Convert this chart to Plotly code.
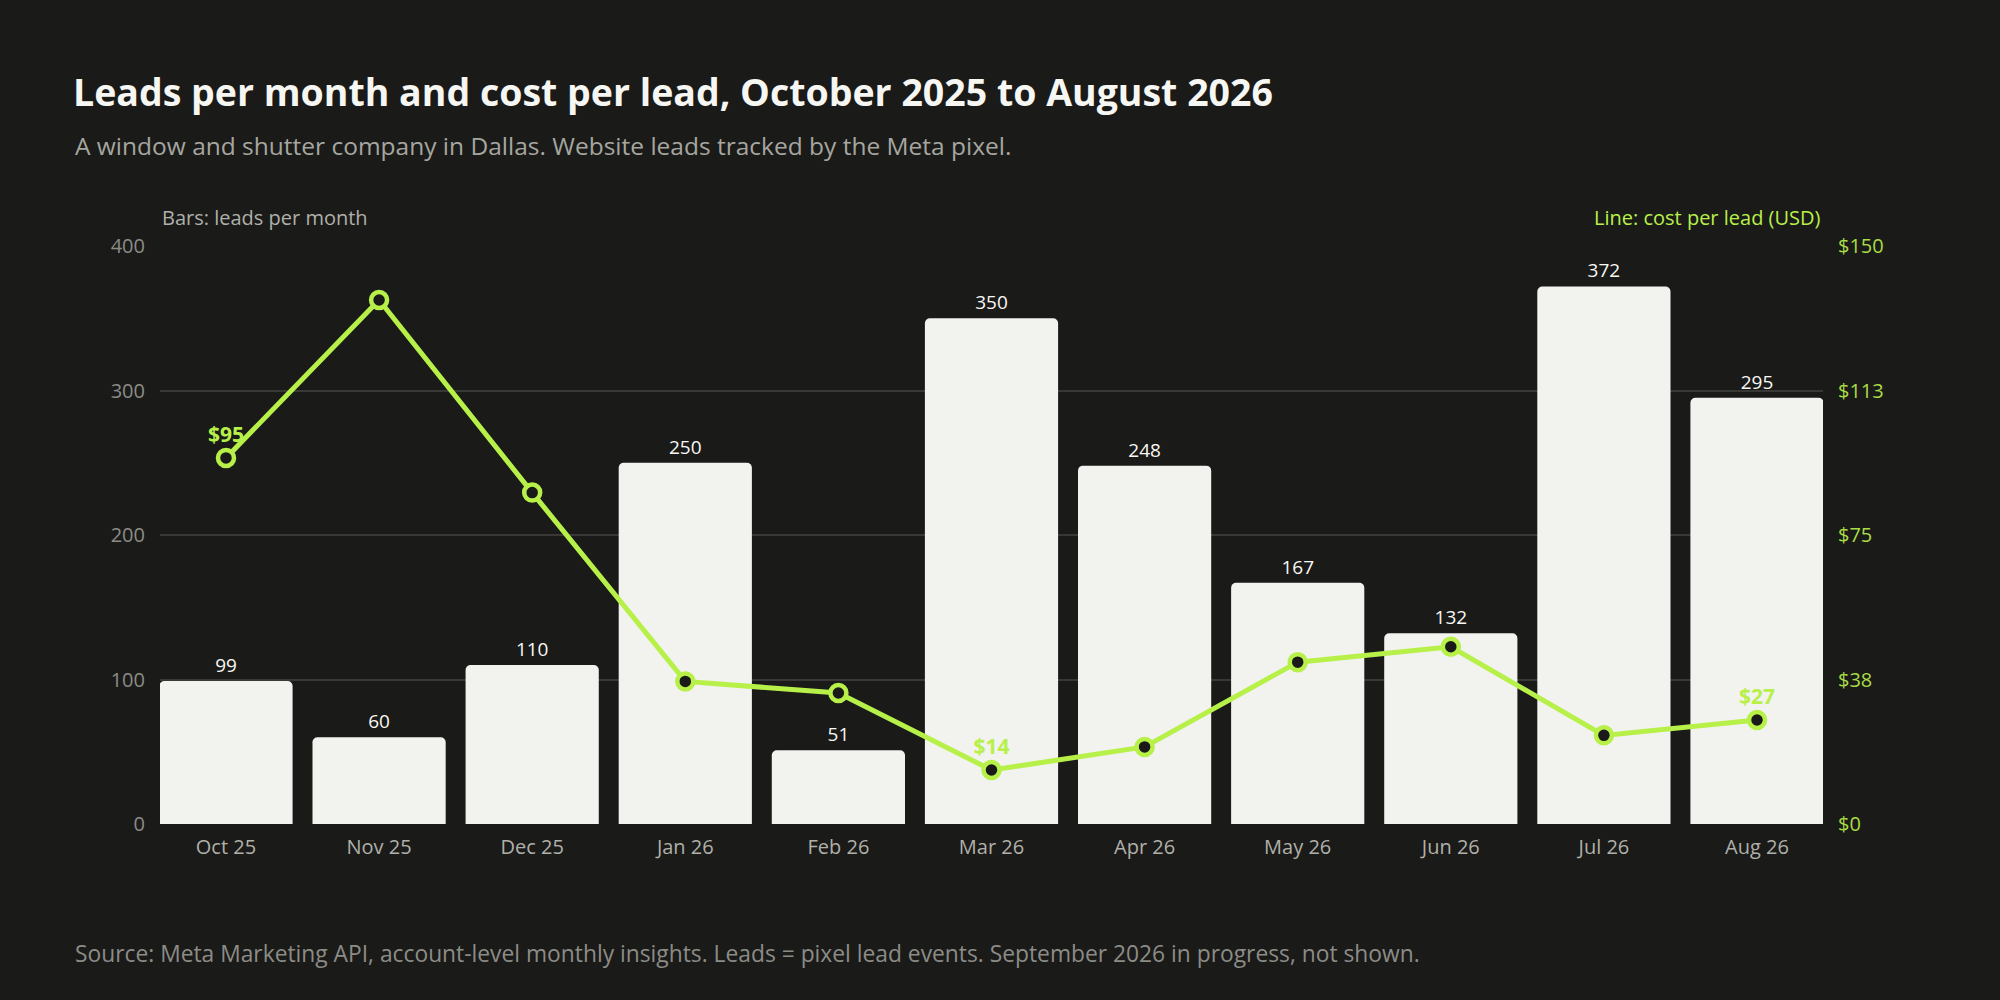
import plotly.graph_objects as go

# data
months = ["Oct 25", "Nov 25", "Dec 25", "Jan 26", "Feb 26", "Mar 26",
          "Apr 26", "May 26", "Jun 26", "Jul 26", "Aug 26"]
leads = [99, 60, 110, 250, 51, 350, 248, 167, 132, 372, 295]
cost_per_lead = [95, 136, 86, 37, 34, 14, 20, 42, 46, 23, 27]

cost_ticks = [0, 37.5, 75, 112.5, 150]
cost_tick_labels = ["$0", "$38", "$75", "$113", "$150"]

BG = "#1a1a18"
BAR = "#f2f2ee"
LIME = "#b8f04a"
GRID = "#383836"
FONT = "Open Sans, Noto Sans, sans-serif"

# label only first, lowest and last point of the line
low = cost_per_lead.index(min(cost_per_lead))
line_text = []
for i, v in enumerate(cost_per_lead):
    if i in (0, low, len(cost_per_lead) - 1):
        line_text.append(f"${v}")
    else:
        line_text.append("")

fig = go.Figure()

fig.add_trace(go.Bar(
    x=months, y=leads,
    marker=dict(color=BAR, cornerradius=5, line=dict(width=0)),
    text=leads, textposition="outside",
    textfont=dict(color="#f8f8f4", size=19, family=FONT),
    cliponaxis=False,
    name="Leads",
))

fig.add_trace(go.Scatter(
    x=months, y=cost_per_lead, yaxis="y2",
    mode="lines+markers+text",
    line=dict(color=LIME, width=5),
    marker=dict(size=16, color=BG, line=dict(color=LIME, width=4.5)),
    text=line_text, textposition="top center",
    textfont=dict(color=LIME, size=21, family=FONT, weight="bold"),
    cliponaxis=False,
    name="Cost per lead",
))

fig.update_layout(
    width=2000, height=1000,
    paper_bgcolor=BG, plot_bgcolor=BG,
    margin=dict(l=160, r=177, t=246, b=176),
    showlegend=False,
    bargap=0.13,
    font=dict(family=FONT, color="#a8a8a2"),
    title=dict(
        text="<b>Leads per month and cost per lead, October 2025 to August 2026</b>",
        x=73 / 2000, xanchor="left", xref="container",
        y=0.907, yanchor="middle", yref="container",
        font=dict(size=37.5, color="#f6f6f2", family=FONT),
    ),
    xaxis=dict(
        range=[-0.431, 10.431],
        showgrid=False, zeroline=False, showline=False, ticks="",
        tickfont=dict(size=20, color="#b0b0aa"),
        ticklabelstandoff=9,
    ),
    yaxis=dict(
        range=[0, 400], dtick=100,
        gridcolor=GRID, gridwidth=1.5, zeroline=False, showline=False,
        tickfont=dict(size=20, color="#8c8c87"),
        ticklabelstandoff=14,
    ),
    yaxis2=dict(
        overlaying="y", side="right",
        range=[0, 150], tickvals=cost_ticks, ticktext=cost_tick_labels,
        showgrid=False, zeroline=False, showline=False,
        tickfont=dict(size=20, color="#a9dc45"),
        ticklabelstandoff=14,
    ),
    annotations=[
        dict(text="A window and shutter company in Dallas. Website leads tracked by the Meta pixel.",
             xref="paper", yref="paper", x=(73 - 160) / 1663, y=(824 - 145) / 578,
             xanchor="left", yanchor="middle", showarrow=False,
             font=dict(size=24.5, color="#a6a6a0")),
        dict(text="Bars: leads per month",
             xref="paper", yref="paper", x=0.0, y=(824 - 217) / 578,
             xanchor="left", yanchor="middle", showarrow=False,
             font=dict(size=20, color="#b0b0aa")),
        dict(text="Line: cost per lead (USD)",
             xref="paper", yref="paper", x=1.0, y=(824 - 217) / 578,
             xanchor="right", yanchor="middle", showarrow=False,
             font=dict(size=20, color=LIME)),
        dict(text="Source: Meta Marketing API, account-level monthly insights. Leads = pixel lead events. September 2026 in progress, not shown.",
             xref="paper", yref="paper", x=(73 - 160) / 1663, y=(824 - 953) / 578,
             xanchor="left", yanchor="middle", showarrow=False,
             font=dict(size=22.8, color="#8c8c87")),
    ],
)

# drop the default page margin so the figure sits flush in the window
fig.write_html("out.html", config={"displayModeBar": False},
               post_script="document.body.style.margin='0';"
               "document.body.style.background='#1a1a18';")
